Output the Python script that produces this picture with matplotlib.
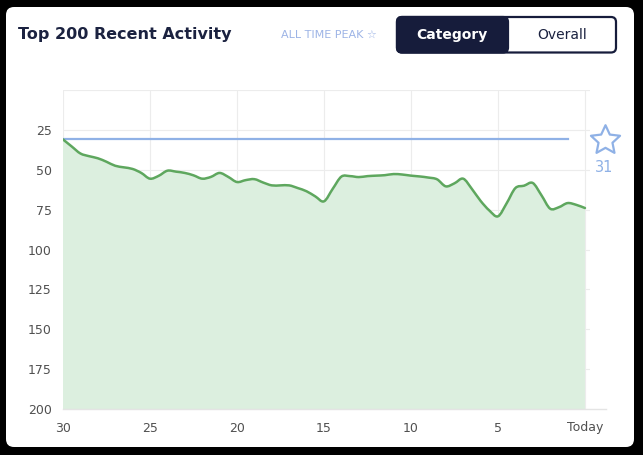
import numpy as np
import matplotlib.pyplot as plt
from matplotlib.patches import FancyBboxPatch, Rectangle, PathPatch
from matplotlib.path import Path
from matplotlib.transforms import IdentityTransform, offset_copy
from matplotlib.lines import Line2D

# days before today (30 ... 0), read every half day
days = [30 - 0.5 * i for i in range(61)]
rank = [31, 35.4, 39.8, 41.5, 42.8, 45, 47.5, 48.5, 49.5, 52,
        55.6, 53.8, 50.6, 51.2, 52, 53.5, 55.6, 54.5, 52, 54.5,
        57.7, 56.5, 55.9, 58, 59.8, 59.8, 59.8, 61.5, 63.5, 66.7,
        69.8, 62, 54.3, 54, 54.6, 54, 53.7, 53.4, 52.7, 53,
        53.7, 54.2, 54.9, 56, 60.4, 58.5, 55.6, 62, 69.5, 75.5,
        79.2, 71, 61.5, 60, 58.3, 66, 74.4, 73.5, 70.9, 72,
        74]
peak_rank = 31
peak_start, peak_end = 30, 1

x_ticks = [30, 25, 20, 15, 10, 5, 0]
x_labels = ['30', '25', '20', '15', '10', '5', 'Today']
y_ticks = [25, 50, 75, 100, 125, 150, 175, 200]

W, H = 643, 455
navy = '#161c3b'
blue = '#8fb1e6'


def spline_path(xs, ys):
    # smooth curve through the points (catmull-rom drawn as bezier segments)
    p = np.column_stack([xs, ys]).astype(float)
    ext = np.vstack([p[0], p, p[-1]])
    verts = [p[0]]
    codes = [Path.MOVETO]
    for i in range(1, len(ext) - 2):
        p0, p1, p2, p3 = ext[i - 1], ext[i], ext[i + 1], ext[i + 2]
        verts += [p1 + (p2 - p0) / 6, p2 - (p3 - p1) / 6, p2]
        codes += [Path.CURVE4] * 3
    return verts, codes


def star_marker(inner=0.48):
    ang = np.pi / 2 + np.arange(10) * np.pi / 5
    r = np.where(np.arange(10) % 2 == 0, 1.0, inner)
    pts = np.column_stack([r * np.cos(ang), r * np.sin(ang)])
    return Path(np.vstack([pts, pts[:1]]), closed=True)


fig = plt.figure(figsize=(W / 100, H / 100), dpi=100, facecolor='black')
px = IdentityTransform()

# white card
fig.patches.append(FancyBboxPatch((6, H - 447), 628, 440,
                                  boxstyle='round,pad=0,rounding_size=8',
                                  fc='white', ec='none', transform=px, zorder=-5))

ax = fig.add_axes([63 / W, 1 - 409 / H, (590 - 63) / W, (409 - 90) / H])
ax.set_zorder(2)
ax.set_facecolor('none')

verts, codes = spline_path(days, rank)
fill_verts = verts + [(days[-1], 200), (days[0], 200), verts[0]]
fill_codes = codes + [Path.LINETO, Path.LINETO, Path.CLOSEPOLY]
ax.add_patch(PathPatch(Path(fill_verts, fill_codes), fc='#dcefdf', ec='none', zorder=1))
ax.add_patch(PathPatch(Path(verts, codes), fc='none', ec='#5ea75e', lw=1.8, zorder=3,
                       capstyle='round', joinstyle='round'))
ax.plot([peak_start, peak_end], [peak_rank, peak_rank], color=blue, lw=1.6, zorder=2)

ax.set_xlim(30, -0.29)
ax.set_ylim(200, 0)
ax.set_xticks(x_ticks)
ax.set_xticklabels(x_labels)
ax.set_yticks([0] + y_ticks)
ax.set_yticklabels([''] + [str(v) for v in y_ticks])
ax.grid(True, color='#ececec', lw=0.8, zorder=0)
ax.set_axisbelow(True)
for s in ax.spines.values():
    s.set_visible(False)
ax.tick_params(length=0, labelsize=9, colors='#505050', pad=8)
ax.tick_params(axis='x', pad=9)
ax.add_line(Line2D([0, 1.03], [0, 0], transform=ax.transAxes, color='#e4e4e4',
                   lw=1, clip_on=False, zorder=1))

# peak star and label
star_tr = offset_copy(ax.transData, fig=fig, x=37, y=-1, units='dots')
ax.plot([peak_end], [peak_rank], marker=star_marker(), ms=22, mfc='none', mec=blue, mew=1.6,
        transform=star_tr, clip_on=False, zorder=4)
ax.annotate(str(peak_rank), xy=(peak_end, peak_rank), xytext=(37, -28),
            textcoords='offset pixels', ha='center', va='center', color=blue,
            fontsize=10.5, annotation_clip=False)

# header
fig.text(18 / W, 1 - 35 / H, 'Top 200 Recent Activity', fontsize=11.5, fontweight='bold',
         color='#1b2240', ha='left', va='center')
fig.text(281 / W, 1 - 35 / H, 'ALL TIME PEAK \u2606', fontsize=8, color='#9db4e6',
         ha='left', va='center')

# toggle buttons
fig.patches.append(FancyBboxPatch((397, H - 52.5), 219, 35.5,
                                  boxstyle='round,pad=0,rounding_size=5',
                                  fc='white', ec=navy, lw=1.6, transform=px))
fig.patches.append(FancyBboxPatch((397, H - 52.5), 111, 35.5,
                                  boxstyle='round,pad=0,rounding_size=5',
                                  fc=navy, ec=navy, lw=1.6, transform=px))
fig.patches.append(Rectangle((495, H - 52.5), 13, 35.5, fc=navy, ec='none', transform=px))
fig.text(452 / W, 1 - 35 / H, 'Category', fontsize=10, fontweight='bold', color='white',
         ha='center', va='center')
fig.text(562 / W, 1 - 35 / H, 'Overall', fontsize=10, color='#1b2240',
         ha='center', va='center')

fig.savefig('out.png', dpi=100, facecolor='black')
